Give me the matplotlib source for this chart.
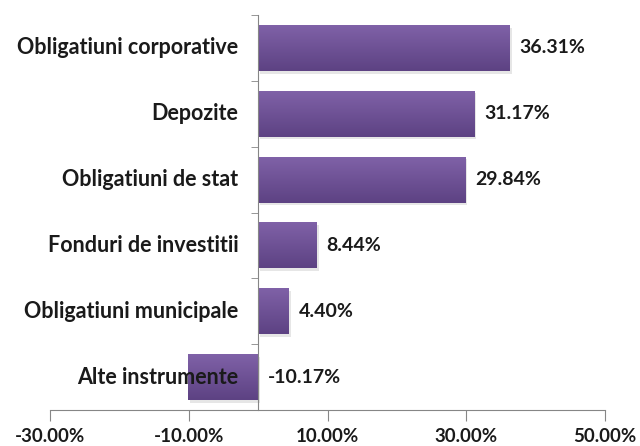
import matplotlib
matplotlib.use("Agg")
import matplotlib.pyplot as plt
import numpy as np
from matplotlib.colors import LinearSegmentedColormap
from matplotlib.transforms import offset_copy

categories = ["Obligatiuni corporative", "Depozite", "Obligatiuni de stat",
              "Fonduri de investitii", "Obligatiuni municipale", "Alte instrumente"]
values = [36.31, 31.17, 29.84, 8.44, 4.40, -10.17]
xticks = [-30, -10, 10, 30, 50]

plt.rcParams['font.family'] = ['Lato', 'DejaVu Sans']

fig = plt.figure(figsize=(6.4, 4.46), dpi=100)
ax = fig.add_axes([50/640, 36/446, 555/640, 395/446])

for s in ["top", "right"]:
    ax.spines[s].set_visible(False)
ax.spines["left"].set_position(("data", 0))
ax.spines["left"].set_color("#868686")
ax.spines["bottom"].set_color("#868686")

n = len(categories)
ypos = np.arange(n)
h = 0.7
cmap = LinearSegmentedColormap.from_list("p", ["#8062a8", "#5d4283"])
grad = np.linspace(0, 1, 100).reshape(-1, 1)

label_tr = offset_copy(ax.transData, fig=fig, x=-20, y=0, units="dots")

for y, v, c in zip(ypos, values, categories):
    x0, x1 = min(0, v), max(0, v)
    sh = ax.barh(y + 0.04, v, height=h, left=0, color="#c8c8c8", alpha=0.45, zorder=1)
    for p in sh:
        p.set_x(p.get_x() + 0.3)
    bars = ax.barh(y, v, height=h, color="none", zorder=3)
    im = ax.imshow(grad, cmap=cmap, aspect="auto",
                   extent=[x0, x1, y + h/2, y - h/2], zorder=2)
    im.set_clip_path(bars[0])
    lx = max(v, 0) + 1.4
    ax.text(lx, y, f"{v:.2f}%", va="center", ha="left", fontsize=14,
            fontweight="bold", color="#1a1a1a", zorder=4)
    ax.text(0, y, c, transform=label_tr, va="center", ha="right", fontsize=15.5,
            fontweight="bold", color="#1a1a1a", zorder=5)

ax.set_xlim(-30, 50)
ax.set_ylim(n - 0.5, -0.5)

ax.set_yticks(ypos)
ax.set_yticklabels([])
ax.set_yticks(np.arange(-0.5, n, 1), minor=True)
ax.tick_params(axis="y", which="major", length=0)
ax.tick_params(axis="y", which="minor", length=5, color="#868686", direction="out")

ax.set_xticks(xticks)
ax.set_xticklabels([f"{t:.2f}%" for t in xticks], fontsize=13.5, fontweight="bold", color="#1a1a1a")
ax.tick_params(axis="x", length=8, color="#868686", pad=5)

fig.savefig("out.png", dpi=100)
